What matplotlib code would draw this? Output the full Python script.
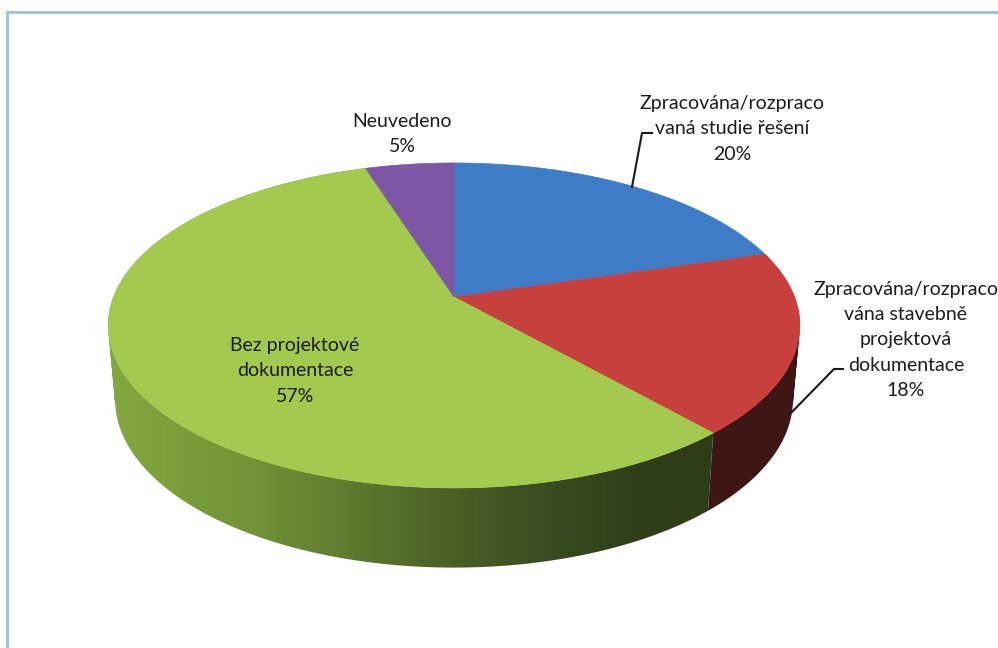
import matplotlib
matplotlib.use('Agg')
import matplotlib.pyplot as plt
import numpy as np
from matplotlib.colors import to_rgb
from matplotlib.patches import PathPatch, Polygon
from matplotlib.path import Path

plt.rcParams['font.family'] = ['Lato', 'DejaVu Sans']

# Data
labels = ['Zpracována/rozpraco\nvaná studie řešení',
          'Zpracována/rozpraco\nvána stavebně\nprojektová\ndokumentace',
          'Bez projektové\ndokumentace',
          'Neuvedeno']
values = [20.4, 18.1, 56.6, 4.9]

colors = ['#3e7cc8', '#c8403e', '#a3c94f', '#7d57a6']
label_pos = [(732, 129), (906, 340), (295, 371), (402, 134)]

# Side wall shade against pixel x
wall_x = [110, 250, 350, 450, 550, 650, 800]
wall_shades = {
    1: ['#3e1614'] * 7,
    2: ['#84a83f', '#729436', '#5f7a2e', '#4a6026', '#384c1f', '#2f3d18', '#2d3a17'],
}

# Pie geometry in pixels, perspective tilt of the disc
CX, CY = 454, 297
BX, AY, K = 340.5, 157.5, -0.175


def project(t):
    u, v = np.sin(t), -np.cos(t)
    d = 1 + K * v
    return BX * u / d, AY * v / d


def top_edge(t):
    x, y = project(t)
    return CX + x, CY + y


def bottom_edge(t):
    x, y = project(t)
    return CX + 0.98 * x, CY + 73 + 1.035 * y


def wall_path(t0, t1):
    # union of small quads, all wound the same way so the fold at the sides fills
    ts = np.linspace(t0, t1, 300)
    tx, ty = top_edge(ts)
    bx, by = bottom_edge(ts)
    parts = []
    for j in range(len(ts) - 1):
        q = np.array([(tx[j], ty[j]), (tx[j + 1], ty[j + 1]),
                      (bx[j + 1], by[j + 1]), (bx[j], by[j])])
        x, y = q[:, 0], q[:, 1]
        if np.dot(x, np.roll(y, -1)) - np.dot(y, np.roll(x, -1)) < 0:
            q = q[::-1]
        parts.append(Path(np.vstack([q, q[0]]), closed=True))
    return Path.make_compound_path(*parts)


fig = plt.figure(figsize=(9.98, 6.48), dpi=100)
ax = fig.add_axes([0, 0, 1, 1])
ax.set_xlim(0, 998)
ax.set_ylim(648, 0)
ax.axis('off')

# Chart frame
ax.plot([7.5, 7.5, 998], [648, 11.5, 11.5], color='#9dc3e6', lw=2.2,
        solid_joinstyle='miter', zorder=1)

edges = np.cumsum([0] + values) / sum(values) * 2 * np.pi

# Side walls first, the top covers the back part
px = np.arange(100, 810)
for i in wall_shades:
    stops = np.array([to_rgb(c) for c in wall_shades[i]])
    grad = np.stack([np.interp(px, wall_x, stops[:, k]) for k in range(3)], axis=-1)
    im = ax.imshow(grad[np.newaxis, :, :], extent=(100, 810, 600, 150), aspect='auto',
                   interpolation='bilinear', zorder=2)
    im.set_clip_path(PathPatch(wall_path(edges[i], edges[i + 1]), transform=ax.transData))

# imshow resets the limits
ax.set_xlim(0, 998)
ax.set_ylim(648, 0)

# Top slices
for i, c in enumerate(colors):
    ts = np.linspace(edges[i], edges[i + 1], 200)
    x, y = top_edge(ts)
    pts = np.column_stack([np.r_[CX, x], np.r_[CY, y]])
    ax.add_patch(Polygon(pts, closed=True, facecolor=c, edgecolor=c, lw=0.5, zorder=3))

# Leader lines
ax.plot([632, 642, 652], [187, 133, 133], color='#1a1a1a', lw=1.5, zorder=4)
ax.plot([789, 834, 843], [415, 369, 369], color='#1a1a1a', lw=1.5, zorder=4)

for lab, v, (x, y) in zip(labels, values, label_pos):
    ax.text(x, y, f'{lab}\n{round(v)}%', ha='center', va='center', fontsize=14,
            linespacing=1.58, color='#1c1c1c', zorder=5)

fig.savefig('out.png', dpi=100)
